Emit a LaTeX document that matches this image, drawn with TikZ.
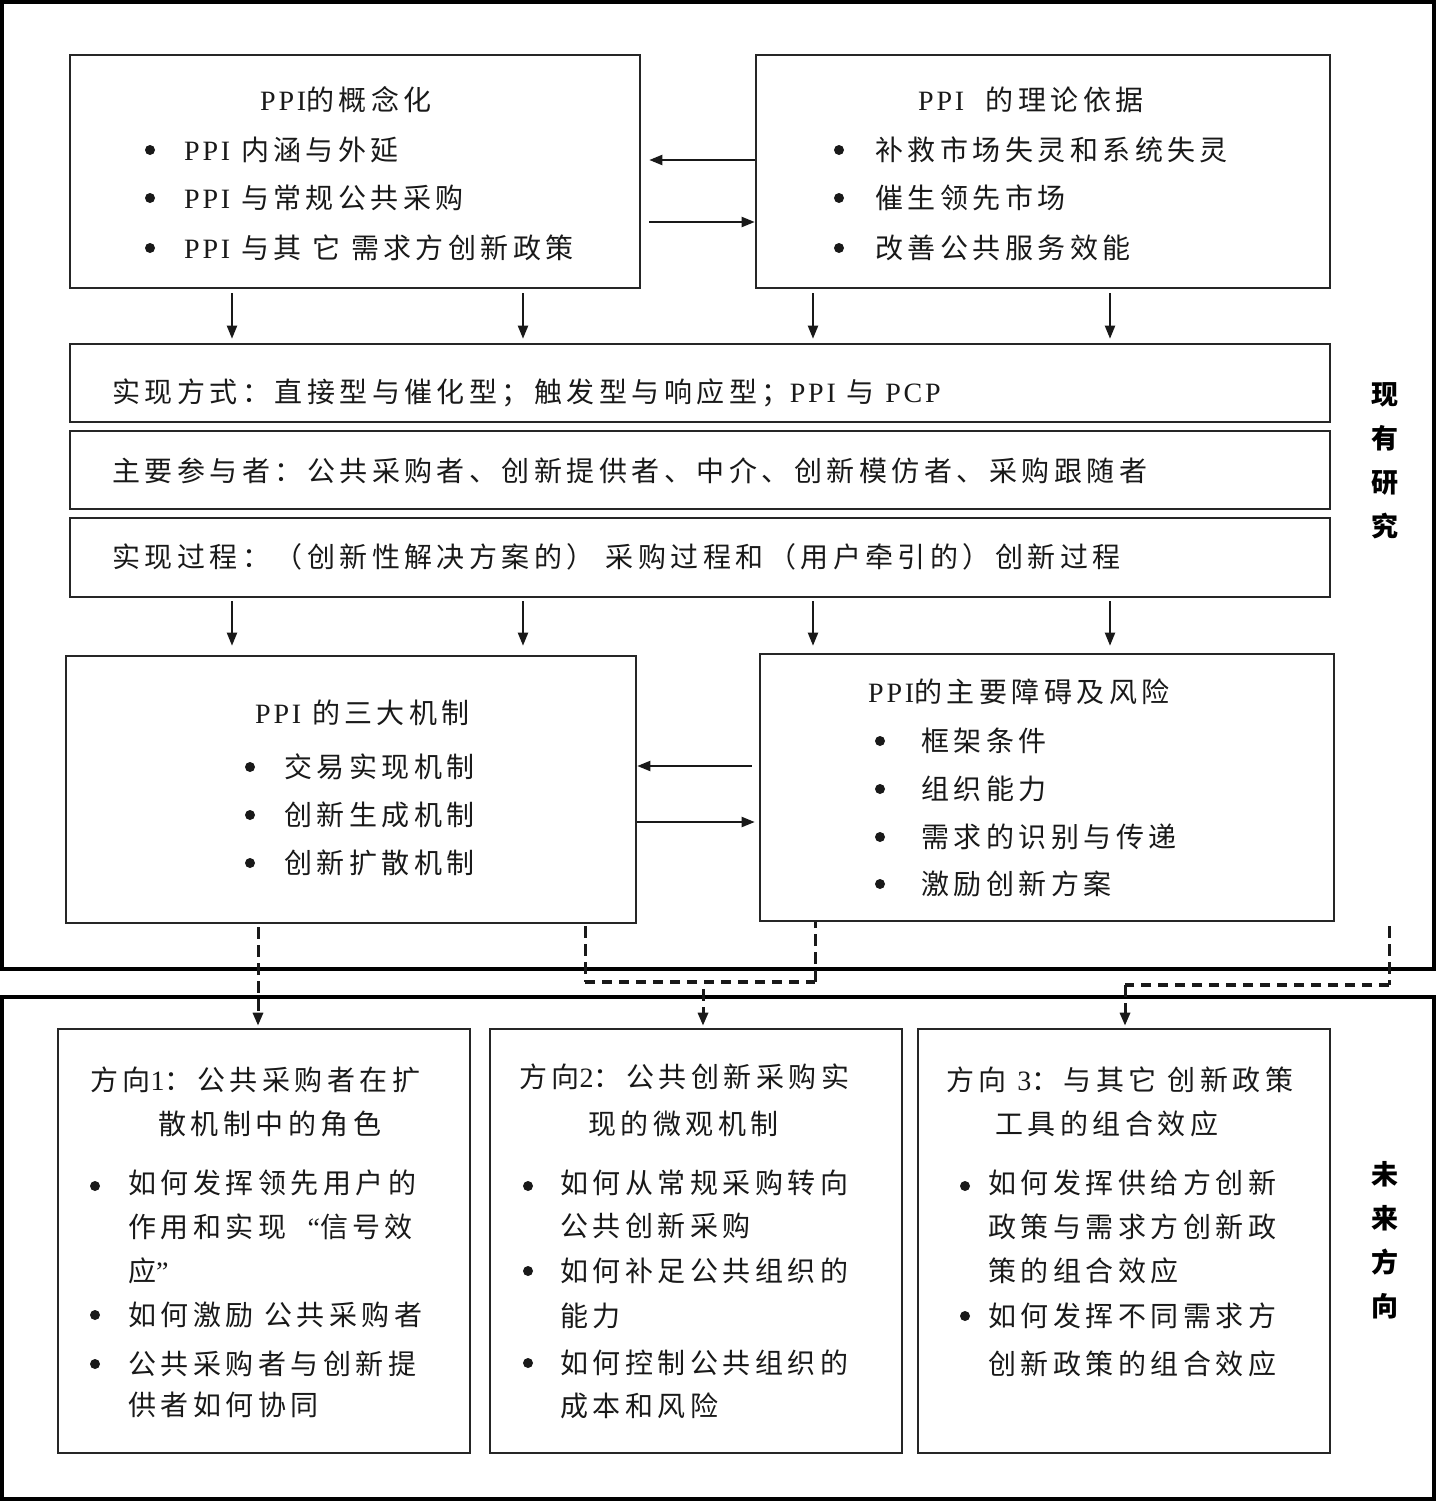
\documentclass[tikz,border=0pt]{standalone}
\usepackage{fontspec}
\setmainfont{Noto Sans CJK SC}[LetterSpace=16]
\newfontfamily\lat{Liberation Serif}[LetterSpace=10]
\usetikzlibrary{arrows.meta,calc}
\newcommand\PPI{{\lat PPI}}
\newcommand\bul[2]{\fill[black!90] (#1,#2) circle (5pt);}
\begin{document}
\begin{tikzpicture}[x=1pt,y=-1pt,
  font=\fontsize{28}{34}\selectfont,
  box/.style={draw=black!85, line width=2.6pt, rectangle, inner sep=0pt},
  outer/.style={draw=black, line width=4pt, rectangle, inner sep=0pt},
  txt/.style={anchor=west, inner sep=0pt, text=black!90},
  arr/.style={line width=2pt, draw=black!90, -{Triangle[length=13pt,width=10pt]}},
  vdash/.style={line width=3pt, draw=black!90, dash pattern=on 12pt off 6pt},
  hdash/.style={line width=4pt, draw=black!90, dash pattern=on 10pt off 7pt},
  dasharr/.style={vdash, -{Triangle[length=13pt,width=10pt]}},
  side/.style={anchor=center, inner sep=0pt, align=center, text=black, font=\bfseries\fontsize{27}{44}\selectfont}
]
\useasboundingbox (0,0) rectangle (1436,1501);
% outer frames
\node[outer, minimum width=1432pt, minimum height=967pt] (top) at (718,485.5) {};
\node[outer, line width=3.5pt, minimum width=1432pt, minimum height=502pt] (bot) at (718,1248) {};
% boxes
\node[box, minimum width=570pt, minimum height=233pt] (A) at (355,171.5) {};
\node[box, minimum width=574pt, minimum height=233pt] (B) at (1043,171.5) {};
\node[box, minimum width=1260pt, minimum height=78pt] (R1) at (700,383) {};
\node[box, minimum width=1260pt, minimum height=78pt] (R2) at (700,470) {};
\node[box, minimum width=1260pt, minimum height=79pt] (R3) at (700,557.5) {};
\node[box, minimum width=570pt, minimum height=267pt] (C) at (351,789.5) {};
\node[box, minimum width=574pt, minimum height=267pt] (D) at (1047,787.5) {};
\node[box, minimum width=412pt, minimum height=424pt] (E) at (264,1241) {};
\node[box, minimum width=412pt, minimum height=424pt] (F) at (696,1241) {};
\node[box, minimum width=412pt, minimum height=424pt] (G) at (1124,1241) {};
% texts A
\node[txt] (a0) at (260,100) {\PPI 的概念化};
\node[txt] (a1) at (184,150) {\PPI\ 内涵与外延};
\node[txt] (a2) at (184,198) {\PPI\ 与常规公共采购};
\node[txt] (a3) at (184,248) {\PPI\ 与其 它 需求方创新政策};
\bul{150}{150}\bul{150}{198}\bul{150}{248}
% texts B
\node[txt] (b0) at (918,100) {\PPI\ \ 的理论依据};
\node[txt] (b1) at (875,150) {补救市场失灵和系统失灵};
\node[txt] (b2) at (875,198) {催生领先市场};
\node[txt] (b3) at (875,248) {改善公共服务效能};
\bul{839}{150}\bul{839}{198}\bul{839}{248}
% bands
\node[txt] (r1) at (112,393) {实现方式：直接型与催化型；触发型与响应型；\PPI\ 与 {\lat PCP}};
\node[txt] (r2) at (112,471) {主要参与者：公共采购者、创新提供者、中介、创新模仿者、采购跟随者};
\node[txt] (r3) at (112,557) {实现过程：（创新性解决方案的） 采购过程和（用户牵引的）创新过程};
% texts C
\node[txt] (c0) at (255,713) {\PPI\ 的三大机制};
\node[txt] (c1) at (284,767) {交易实现机制};
\node[txt] (c2) at (284,815) {创新生成机制};
\node[txt] (c3) at (284,863) {创新扩散机制};
\bul{250}{767}\bul{250}{815}\bul{250}{863}
% texts D
\node[txt] (d0) at (868,692) {\PPI 的主要障碍及风险};
\node[txt] (d1) at (921,741) {框架条件};
\node[txt] (d2) at (921,789) {组织能力};
\node[txt] (d3) at (921,837) {需求的识别与传递};
\node[txt] (d4) at (921,884) {激励创新方案};
\bul{880}{741}\bul{880}{789}\bul{880}{837}\bul{880}{884}
% texts E
\node[txt] (e0) at (90,1080) {方向{\lat 1}：公共采购者在扩};
\node[txt] (e1) at (158,1124) {散机制中的角色};
\node[txt] (e2) at (128,1183) {如何发挥领先用户的};
\node[txt] (e3) at (128,1227) {作用和实现 \ {\lat “}信号效};
\node[txt] (e4) at (128,1271) {应{\lat ”}};
\node[txt] (e5) at (128,1315) {如何激励 公共采购者};
\node[txt] (e6) at (128,1364) {公共采购者与创新提};
\node[txt] (e7) at (128,1405) {供者如何协同};
\bul{95}{1186}\bul{95}{1315}\bul{95}{1364}
% texts F
\node[txt] (f0) at (519,1077) {方向{\lat 2}：公共创新采购实};
\node[txt] (f1) at (588,1124) {现的微观机制};
\node[txt] (f2) at (560,1183) {如何从常规采购转向};
\node[txt] (f3) at (560,1226) {公共创新采购};
\node[txt] (f4) at (560,1271) {如何补足公共组织的};
\node[txt] (f5) at (560,1316) {能力};
\node[txt] (f6) at (560,1363) {如何控制公共组织的};
\node[txt] (f7) at (560,1406) {成本和风险};
\bul{528}{1186}\bul{528}{1271}\bul{528}{1363}
% texts G
\node[txt] (g0) at (946,1080) {方向 {\lat 3}：与其它 创新政策};
\node[txt] (g1) at (995,1124) {工具的组合效应};
\node[txt] (g2) at (988,1183) {如何发挥供给方创新};
\node[txt] (g3) at (988,1227) {政策与需求方创新政};
\node[txt] (g4) at (988,1271) {策的组合效应};
\node[txt] (g5) at (988,1316) {如何发挥不同需求方};
\node[txt] (g6) at (988,1364) {创新政策的组合效应};
\bul{965}{1186}\bul{965}{1316}
% side labels
\node[side] (s1) at (1385,461) {现\\有\\研\\究};
\node[side] (s2) at (1385,1240.5) {未\\来\\方\\向};
% helper coordinates
\coordinate (y160) at (0,160);
\coordinate (y222) at (0,222);
\coordinate (y766) at (0,766);
\coordinate (y822) at (0,822);
\coordinate (x232) at (232,0);
\coordinate (x523) at (523,0);
\coordinate (x813) at (813,0);
\coordinate (x1110) at (1110,0);
\coordinate (x258) at (258,0);
\coordinate (x585) at (585,0);
\coordinate (x815) at (815,0);
\coordinate (x703) at (703,0);
\coordinate (x1125) at (1125,0);
% horizontal arrows
\draw[arr, shorten >=8pt] (B.west |- y160) -- (A.east |- y160);
\draw[arr, shorten <=8pt] (A.east |- y222) -- (B.west |- y222);
\draw[arr, shorten <=7pt] (D.west |- y766) -- (C.east |- y766);
\draw[arr, shorten >=4pt] (C.east |- y822) -- (D.west |- y822);
% vertical arrows
\foreach \xx in {x232,x523}{\draw[arr, shorten <=4pt, shorten >=4pt] (A.south -| \xx) -- (R1.north -| \xx);}
\foreach \xx in {x813,x1110}{\draw[arr, shorten <=4pt, shorten >=4pt] (B.south -| \xx) -- (R1.north -| \xx);}
\foreach \xx in {x232,x523}{\draw[arr, shorten <=3pt, shorten >=9pt] (R3.south -| \xx) -- (C.north -| \xx);}
\foreach \xx in {x813,x1110}{\draw[arr, shorten <=3pt, shorten >=7pt] (R3.south -| \xx) -- (D.north -| \xx);}
% dashed connectors
\coordinate (m1) at (585,982);
\coordinate (m2) at (815,982);
\coordinate (m3) at (703,989);
\coordinate (q0) at (1389,926);
\coordinate (q1) at (1389,985);
\coordinate (q2) at (1125,985);
\draw[dasharr, shorten <=3pt, shorten >=2pt] (C.south -| x258) -- (E.north -| x258);
\draw[vdash] ([yshift=-2pt]C.south -| x585) -- (m1);
\draw[hdash] (m1) -- (m2);
\draw[vdash] (m2) -- (D.south -| x815);
\draw[dasharr, shorten >=2pt] (m3) -- (F.north -| x703);
\draw[vdash] (q0) -- (q1);
\draw[hdash] (q1) -- (q2);
\draw[dasharr, shorten >=2pt] (q2) -- (G.north -| x1125);
\end{tikzpicture}
\end{document}
